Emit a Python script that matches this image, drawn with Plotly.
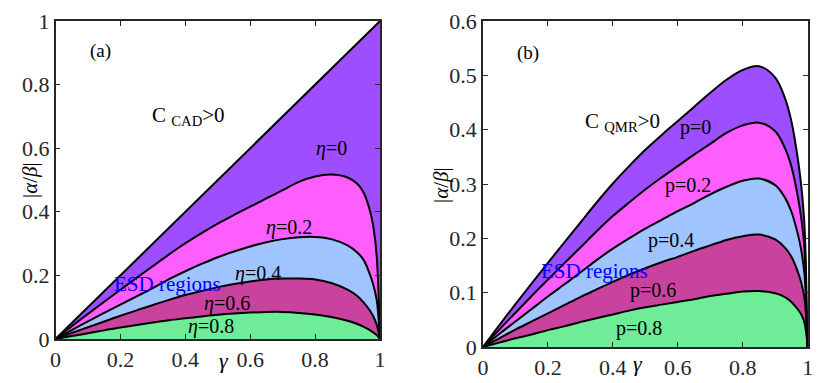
import plotly.graph_objects as go

# gamma grid shared by all curves
gamma = [0, 0.05, 0.1, 0.15, 0.2, 0.25, 0.3, 0.35, 0.4, 0.45, 0.5, 0.55, 0.6,
         0.65, 0.7, 0.75, 0.8, 0.85, 0.9, 0.93, 0.95, 0.97, 0.98, 0.99, 1.0]

# panel (a): CAD boundary |alpha/beta| = gamma and the eta curves
cad_x = [0, 1]
cad_y = [0, 1]
eta_0 = [0, 0.040, 0.079, 0.117, 0.155, 0.192, 0.229, 0.266, 0.301, 0.333, 0.363,
         0.390, 0.416, 0.442, 0.468, 0.494, 0.511, 0.517, 0.508, 0.488, 0.460,
         0.400, 0.350, 0.260, 0]
eta_02 = [0, 0.028, 0.055, 0.082, 0.108, 0.134, 0.160, 0.188, 0.213, 0.236, 0.257,
          0.275, 0.291, 0.304, 0.314, 0.320, 0.321, 0.314, 0.294, 0.272, 0.248,
          0.200, 0.168, 0.122, 0]
eta_04 = [0, 0.019, 0.037, 0.055, 0.073, 0.090, 0.107, 0.123, 0.138, 0.151, 0.163,
          0.173, 0.181, 0.187, 0.190, 0.190, 0.187, 0.176, 0.155, 0.135, 0.114,
          0.088, 0.070, 0.045, 0]
eta_06 = [0, 0.009, 0.018, 0.027, 0.036, 0.044, 0.052, 0.059, 0.065, 0.071, 0.076,
          0.080, 0.083, 0.085, 0.085, 0.082, 0.077, 0.069, 0.057, 0.047, 0.038,
          0.027, 0.020, 0.012, 0]

# panel (b): QMR boundaries for measurement strength p
p_0 = [0, 0.040, 0.079, 0.117, 0.155, 0.192, 0.229, 0.266, 0.301, 0.333, 0.363,
       0.390, 0.416, 0.442, 0.468, 0.492, 0.510, 0.517, 0.496, 0.458, 0.415,
       0.345, 0.298, 0.225, 0]
p_02 = [0, 0.032, 0.063, 0.094, 0.124, 0.154, 0.183, 0.213, 0.241, 0.266, 0.290,
        0.312, 0.333, 0.354, 0.374, 0.394, 0.408, 0.413, 0.397, 0.366, 0.332,
        0.276, 0.238, 0.180, 0]
p_04 = [0, 0.024, 0.047, 0.070, 0.093, 0.115, 0.137, 0.160, 0.181, 0.200, 0.218,
        0.234, 0.250, 0.265, 0.281, 0.295, 0.306, 0.310, 0.298, 0.275, 0.249,
        0.207, 0.179, 0.135, 0]
p_06 = [0, 0.016, 0.032, 0.047, 0.062, 0.077, 0.092, 0.106, 0.120, 0.133, 0.145,
        0.156, 0.166, 0.177, 0.187, 0.197, 0.204, 0.207, 0.198, 0.183, 0.166,
        0.138, 0.119, 0.090, 0]
p_08 = [0, 0.008, 0.016, 0.023, 0.031, 0.038, 0.046, 0.053, 0.060, 0.067, 0.073,
        0.078, 0.083, 0.088, 0.094, 0.098, 0.102, 0.103, 0.099, 0.092, 0.083,
        0.069, 0.060, 0.045, 0]

GREEN = "rgb(110,236,152)"
MAGENTA = "rgb(201,66,158)"
BLUE = "rgb(160,196,255)"
PINK = "rgb(255,94,255)"
PURPLE = "rgb(157,78,255)"
SERIF = "Liberation Serif, Times New Roman, DejaVu Serif, serif"

fig = go.Figure()


def band(x, y, color, axis, first=False):
    xa, ya = axis
    fig.add_trace(go.Scatter(
        x=x, y=y, mode="lines",
        line=dict(color="black", width=2, shape="spline", smoothing=1.0),
        fill="tozeroy" if first else "tonexty",
        fillcolor=color, xaxis=xa, yaxis=ya, showlegend=False,
        hoverinfo="skip",
    ))


# panel (a), bottom band first
band(gamma, eta_06, GREEN, ("x", "y"), first=True)
band(gamma, eta_04, MAGENTA, ("x", "y"))
band(gamma, eta_02, BLUE, ("x", "y"))
band(gamma, eta_0, PINK, ("x", "y"))
band(cad_x, cad_y, PURPLE, ("x", "y"))

# panel (b)
band(gamma, p_08, GREEN, ("x2", "y2"), first=True)
band(gamma, p_06, MAGENTA, ("x2", "y2"))
band(gamma, p_04, BLUE, ("x2", "y2"))
band(gamma, p_02, PINK, ("x2", "y2"))
band(gamma, p_0, PURPLE, ("x2", "y2"))

axis_style = dict(
    showline=True, linecolor="#262626", linewidth=1.5, mirror="ticks",
    ticks="inside", ticklen=5, tickcolor="#262626", showgrid=False,
    zeroline=False, automargin=False,
    tickfont=dict(family=SERIF, size=22, color="#262626"),
)
tick_ab = [0, 0.2, 0.4, 0.6, 0.8, 1]
tick_lbl = ["0", "0.2", "0.4", "0.6", "0.8", "1"]

fig.update_layout(
    width=830, height=383,
    margin=dict(l=0, r=0, t=0, b=0, autoexpand=False),
    paper_bgcolor="white", plot_bgcolor="white",
    font=dict(family=SERIF),
    xaxis=dict(domain=[0.0669, 0.4578], range=[0, 1], tickvals=tick_ab,
               ticktext=tick_lbl, **axis_style),
    yaxis=dict(domain=[0.115, 0.945], range=[0, 1], tickvals=tick_ab,
               ticktext=tick_lbl, **axis_style),
    xaxis2=dict(domain=[0.5819, 0.9731], range=[0, 1], tickvals=tick_ab,
                ticktext=tick_lbl, anchor="y2", **axis_style),
    yaxis2=dict(domain=[0.094, 0.945], range=[0, 0.6],
                tickvals=[0, 0.1, 0.2, 0.3, 0.4, 0.5, 0.6],
                ticktext=["0", "0.1", "0.2", "0.3", "0.4", "0.5", "0.6"],
                anchor="x2", **axis_style),
)


def label(text, x, y, size=20, color="black", ref=("x", "y"), angle=0):
    fig.add_annotation(text=text, x=x, y=y, xref=ref[0], yref=ref[1],
                       showarrow=False, textangle=angle,
                       font=dict(family=SERIF, size=size, color=color))


# panel (a) texts
label("(a)", 0.14, 0.905, size=19)
label("C <sub>CAD</sub>>0", 0.41, 0.7, size=21)
label("<i>η</i>=0", 0.85, 0.60)
label("<i>η</i>=0.2", 0.72, 0.35)
label("<i>η</i>=0.4", 0.625, 0.207)
label("<i>η</i>=0.6", 0.53, 0.113)
label("<i>η</i>=0.8", 0.48, 0.04)
label("ESD regions", 0.344, 0.174, size=21, color="blue")
label("<i>γ</i>", 217 / 830, 1 - 375 / 383, size=22, ref=("paper", "paper"))
label("|<i>α</i>/<i>β</i>|", 16 / 830, 1 - 180 / 383, size=21,
      ref=("paper", "paper"), angle=-90)

# panel (b) texts
label("(b)", 0.14, 0.541, size=19, ref=("x2", "y2"))
label("C <sub>QMR</sub>>0", 0.43, 0.415, size=21, ref=("x2", "y2"))
label("p=0", 0.655, 0.404, ref=("x2", "y2"))
label("p=0.2", 0.63, 0.298, ref=("x2", "y2"))
label("p=0.4", 0.58, 0.196, ref=("x2", "y2"))
label("p=0.6", 0.525, 0.104, ref=("x2", "y2"))
label("p=0.8", 0.48, 0.034, ref=("x2", "y2"))
label("ESD regions", 0.345, 0.139, size=21, color="blue", ref=("x2", "y2"))
label("<i>γ</i>", 645 / 830, 1 - 378 / 383, size=22, ref=("paper", "paper"))
label("|<i>α</i>/<i>β</i>|", 441 / 830, 1 - 185 / 383, size=21,
      ref=("paper", "paper"), angle=-90)

# the page body has a default 8px margin; drop it so the figure sits at 0,0
fig.write_html("out.html", config={"displayModeBar": False},
               post_script="document.body.style.margin = '0px';")
